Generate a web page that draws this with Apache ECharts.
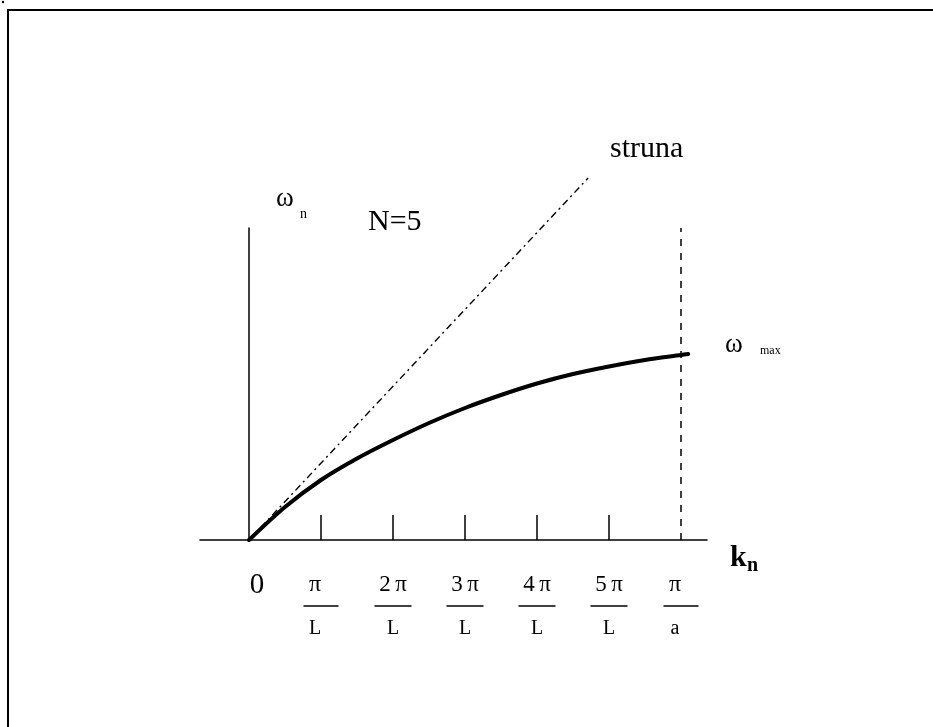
<!DOCTYPE html>
<html>
<head>
<meta charset="utf-8">
<script src="https://cdn.jsdelivr.net/npm/echarts@6/dist/echarts.min.js"></script>
<style>
    html, body { margin: 0; padding: 0; background: #fff; }
    #chart { width: 933px; height: 727px; }
</style>
</head>
<body>
<div id="chart"></div>
<script>
// k_n in units of pi/L, omega_n in arbitrary height units
var curveK = [0, 0.5, 1, 1.5, 2, 2.5, 3, 3.5, 4, 4.5, 5, 5.5, 6, 6.1];
var curveW = [0, 33, 60, 81.5, 100, 117, 132, 145, 156.5, 166, 173.5, 180, 185, 186];
var strunaK = [0, 4.71];
var strunaW = [0, 362];
var tickValues = [1, 2, 3, 4, 5];
var labelValues = [0, 1, 2, 3, 4, 5, 6];
var labelNum = ['0', 'π', '2\u2009π', '3\u2009π', '4\u2009π', '5\u2009π', 'π'];
var labelDen = ['', 'L', 'L', 'L', 'L', 'L', 'a'];
var kMax = 6;

(function(){
    var chart = echarts.init(document.getElementById('chart')),
        serif = '"Liberation Serif", "Times New Roman", serif',
        curveData = [],
        strunaData = [],
        i;

    for(i = 0; i < curveK.length; i++){
        curveData.push([curveK[i], curveW[i]]);
    }
    for(i = 0; i < strunaK.length; i++){
        strunaData.push([strunaK[i], strunaW[i]]);
    }

    // fraction labels: numerator / bar / denominator
    function fracLabel(value){
        var idx = labelValues.indexOf(value);
        if(idx < 0) return '';
        if(idx === 0) return '{zero|' + labelNum[idx] + '}';
        var side = (idx === 1 || idx === labelValues.length - 1) ? 'S' : 'L';
        return '{num' + side + '|' + labelNum[idx] + '}\n{bar' + side + '| }\n{den' + side + '|' + labelDen[idx] + '}';
    }

    var option = {
        animation: false,
        backgroundColor: '#fff',
        grid: { left: 200, right: 226, top: 228, bottom: 187 },
        xAxis: {
            type: 'value',
            min: -0.6806,
            max: 6.361,
            splitLine: { show: false },
            axisLine: { show: true, onZero: true, lineStyle: { color: '#000', width: 1.5 } },
            axisTick: {
                show: true,
                inside: true,
                length: 25,
                customValues: tickValues,
                lineStyle: { color: '#000', width: 1.5 }
            },
            axisLabel: {
                show: true,
                margin: 30,
                customValues: labelValues,
                formatter: fracLabel,
                color: '#000',
                fontFamily: serif,
                rich: {
                    zero: { fontSize: 29, lineHeight: 30, fontFamily: serif, color: '#000', padding: [0, 0, 0, 16] },
                    numS: { fontSize: 24, lineHeight: 30, fontFamily: serif, color: '#000', padding: [0, 12, 0, 0] },
                    barS: { width: 23, height: 1.5, lineHeight: 12, backgroundColor: '#000', padding: [0, 12, 0, 0] },
                    denS: { fontSize: 20, lineHeight: 34, fontFamily: serif, color: '#000', padding: [0, 12, 0, 0] },
                    numL: { fontSize: 23, lineHeight: 30, fontFamily: serif, color: '#000' },
                    barL: { width: 37, height: 1.5, lineHeight: 12, backgroundColor: '#000' },
                    denL: { fontSize: 20, lineHeight: 34, fontFamily: serif, color: '#000' }
                }
            }
        },
        yAxis: {
            type: 'value',
            min: 0,
            max: 312,
            splitLine: { show: false },
            axisLine: { show: true, onZero: true, lineStyle: { color: '#000', width: 1.5 } },
            axisTick: { show: false },
            axisLabel: { show: false }
        },
        series: [
            {
                name: 'struna',
                type: 'line',
                data: strunaData,
                symbol: 'none',
                clip: false,
                silent: true,
                lineStyle: { color: '#000', width: 1.4, type: [7, 4, 2, 4] }
            },
            {
                name: 'N=5',
                type: 'line',
                data: curveData,
                symbol: 'none',
                smooth: 0.3,
                clip: false,
                silent: true,
                lineStyle: { color: '#000', width: 4, cap: 'round' },
                markLine: {
                    silent: true,
                    symbol: 'none',
                    label: { show: false },
                    lineStyle: { color: '#000', width: 1.5, type: [7, 7] },
                    data: [{ xAxis: kMax }]
                }
            }
        ],
        graphic: [
            {
                type: 'rect',
                shape: { x: 8, y: 10, width: 1000, height: 1000 },
                style: { fill: 'none', stroke: '#000', lineWidth: 2 },
                silent: true
            },
            { type: 'circle', shape: { cx: 3, cy: 2, r: 1.2 }, style: { fill: '#000' } },
            { type: 'text', left: 276, top: 185, style: { text: 'ω', font: '27px ' + serif, fill: '#000' } },
            { type: 'text', left: 300, top: 207, style: { text: 'n', font: '14px ' + serif, fill: '#000' } },
            { type: 'text', left: 368, top: 207, style: { text: 'N=5', font: '30px ' + serif, fill: '#000' } },
            { type: 'text', left: 610, top: 134, style: { text: 'struna', font: '30px ' + serif, fill: '#000' } },
            { type: 'text', left: 725, top: 331, style: { text: 'ω', font: '27px ' + serif, fill: '#000' } },
            { type: 'text', left: 760, top: 345, style: { text: 'max', font: '12px ' + serif, fill: '#000' } },
            { type: 'text', left: 730, top: 543, style: { text: 'k', font: 'bold 30px ' + serif, fill: '#000' } },
            { type: 'text', left: 747, top: 556, style: { text: 'n', font: 'bold 20px ' + serif, fill: '#000' } }
        ]
    };

    chart.setOption(option);
})();
</script>
</body>
</html>
